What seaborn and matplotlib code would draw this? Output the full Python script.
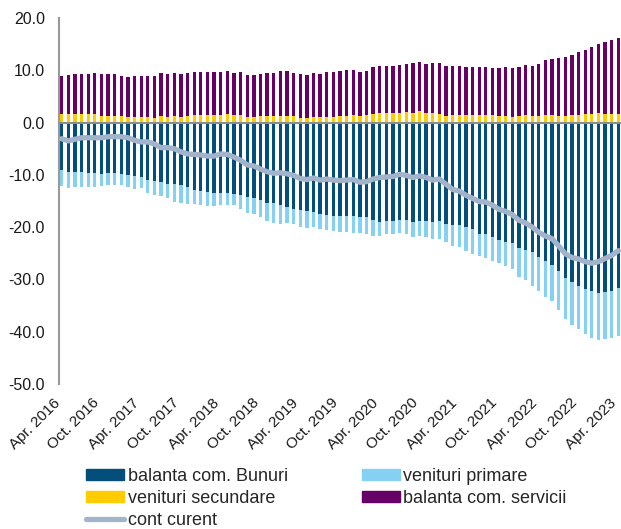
import numpy as np
import pandas as pd
import matplotlib
matplotlib.use("Agg")
import matplotlib.pyplot as plt
import matplotlib.transforms as mtransforms
from matplotlib.patches import Patch
from matplotlib.lines import Line2D
import seaborn as sns

# ─── Data (monthly, Apr. 2016 – Apr. 2023) ────────────────────────────────────
months = pd.period_range("2016-04", "2023-04", freq="M").strftime("%Y-%m").tolist()

bunuri = [
    -9.1, -9.4, -9.4, -9.5, -9.6, -9.6, -9.8, -9.7, -9.7, -9.9,
    -10.1, -10.3, -10.4, -10.9, -11.2, -11.3, -11.7, -11.8, -12.0, -12.4,
    -12.9, -13.1, -13.3, -13.4, -13.4, -13.4, -13.6, -13.9, -14.3, -14.4,
    -14.8, -15.3, -15.4, -15.8, -16.2, -16.5, -16.8, -17.0, -17.1, -17.5,
    -17.6, -17.8, -17.9, -17.9, -17.9, -18.1, -18.1, -18.7, -19.0, -18.9,
    -18.9, -18.7, -18.7, -19.0, -18.8, -18.8, -19.0, -18.9, -19.4, -19.6,
    -19.5, -20.0, -20.3, -21.3, -21.3, -21.8, -22.4, -22.8, -23.1, -24.0,
    -24.3, -24.7, -25.7, -26.5, -27.3, -28.3, -29.7, -30.5, -31.3, -31.9,
    -32.3, -32.6, -32.4, -32.2, -31.7,
]
primare = [
    -3.1, -3.2, -3.0, -2.8, -2.7, -2.8, -2.4, -2.3, -2.2, -2.0,
    -2.2, -2.4, -2.2, -2.5, -2.7, -2.8, -2.7, -3.3, -3.3, -3.1,
    -2.6, -2.7, -2.7, -2.5, -2.4, -2.3, -2.2, -2.6, -2.9, -3.1,
    -3.3, -3.5, -3.8, -3.6, -3.1, -2.9, -3.2, -3.1, -2.9, -2.9,
    -2.9, -2.9, -3.0, -3.0, -3.2, -3.1, -3.3, -2.9, -2.6, -2.4,
    -2.4, -2.4, -2.7, -2.8, -2.9, -3.0, -3.3, -3.3, -3.4, -4.0,
    -4.3, -4.6, -4.9, -4.2, -4.6, -4.6, -4.5, -4.7, -4.9, -5.5,
    -5.9, -6.5, -6.5, -6.9, -6.9, -7.5, -7.9, -8.3, -8.1, -8.5,
    -8.9, -8.9, -9.0, -9.0, -9.2,
]
secundare = [
    1.6, 1.6, 1.7, 1.7, 1.6, 1.7, 1.2, 1.3, 1.3, 1.2,
    1.0, 1.0, 1.0, 1.0, 0.9, 1.2, 1.1, 1.2, 1.1, 1.3,
    1.4, 1.4, 1.4, 1.5, 1.5, 1.6, 1.4, 1.4, 1.1, 1.1,
    1.2, 1.2, 1.2, 1.3, 1.3, 1.2, 0.9, 0.8, 1.0, 1.0,
    1.1, 1.1, 1.2, 1.3, 1.4, 1.2, 1.4, 1.6, 1.8, 1.8,
    1.8, 1.9, 2.0, 1.9, 2.2, 1.8, 1.9, 1.7, 1.2, 1.5,
    1.5, 1.5, 1.5, 1.5, 1.5, 1.5, 1.3, 1.3, 1.1, 1.3,
    1.4, 1.3, 1.3, 1.4, 1.4, 1.3, 1.3, 1.4, 1.5, 1.6,
    1.7, 1.8, 1.7, 1.7, 1.7,
]
servicii = [
    7.4, 7.5, 7.5, 7.6, 7.6, 7.8, 8.0, 7.9, 7.9, 7.8,
    7.8, 7.9, 8.0, 8.0, 8.0, 8.2, 8.2, 8.2, 8.1, 8.2,
    8.2, 8.2, 8.2, 8.1, 8.1, 8.2, 8.0, 8.2, 8.0, 8.0,
    8.1, 8.2, 8.3, 8.5, 8.6, 8.3, 8.4, 8.3, 8.4, 8.3,
    8.5, 8.5, 8.6, 8.7, 8.7, 8.5, 8.5, 9.1, 9.1, 9.0,
    9.1, 9.2, 9.2, 9.4, 9.3, 9.4, 9.4, 9.6, 9.6, 9.3,
    9.3, 9.2, 9.2, 9.1, 9.2, 9.0, 9.1, 9.3, 9.3, 9.3,
    9.6, 9.6, 9.9, 10.5, 10.8, 11.1, 11.2, 11.6, 12.0, 12.3,
    12.7, 13.3, 13.8, 14.1, 14.4,
]
cont_curent = [
    -3.1, -3.5, -3.2, -2.9, -2.9, -2.9, -2.9, -2.7, -2.7, -2.7,
    -2.9, -3.4, -3.7, -3.7, -4.1, -4.8, -4.8, -5.0, -5.6, -6.0,
    -6.1, -6.2, -6.4, -6.4, -6.0, -6.1, -6.6, -7.2, -8.1, -8.3,
    -8.9, -9.4, -9.7, -9.6, -9.8, -10.1, -10.7, -10.9, -10.6, -11.0,
    -10.8, -11.0, -11.1, -11.0, -10.9, -11.4, -11.3, -10.8, -10.5, -10.4,
    -10.3, -9.9, -10.1, -10.5, -10.2, -10.5, -11.0, -10.8, -11.8, -12.8,
    -13.1, -13.9, -14.5, -15.1, -15.2, -15.8, -16.6, -17.0, -17.6, -18.7,
    -19.2, -20.0, -21.0, -21.7, -22.2, -23.6, -25.1, -25.8, -26.1, -26.6,
    -26.9, -26.6, -26.0, -25.4, -24.5,
]

tick_labels = [
    "Apr. 2016", "Oct. 2016", "Apr. 2017", "Oct. 2017", "Apr. 2018",
    "Oct. 2018", "Apr. 2019", "Oct. 2019", "Apr. 2020", "Oct. 2020",
    "Apr. 2021", "Oct. 2021", "Apr. 2022", "Oct. 2022", "Apr. 2023",
]

# ─── Style ────────────────────────────────────────────────────────────────────
sns.set_style("white")
plt.rcParams["font.family"] = ["Liberation Sans", "DejaVu Sans"]

C_BUN = "#034e7b"
C_PRI = "#85d0f3"
C_SEC = "#ffcc00"
C_SER = "#660066"
C_CC = "#a3b4ca"

df = pd.DataFrame({
    "luna": months,
    "bunuri": bunuri,
    "primare": primare,
    "secundare": secundare,
    "servicii": servicii,
    "cont": cont_curent,
})
# cumulative stack edges (bars are overlaid from the outside in)
df["neg_total"] = df["bunuri"] + df["primare"]
df["pos_total"] = df["secundare"] + df["servicii"]

fig = plt.figure(figsize=(6.21, 5.29), dpi=100)
ax = fig.add_axes([59 / 621, 1 - 384 / 529, 562 / 621, 366 / 529])

bw = 0.5
bar_kw = dict(x="luna", width=bw, saturation=1, errorbar=None, linewidth=0, ax=ax)
sns.barplot(data=df, y="neg_total", color=C_PRI, **bar_kw)
sns.barplot(data=df, y="bunuri", color=C_BUN, **bar_kw)
sns.barplot(data=df, y="pos_total", color=C_SER, **bar_kw)
sns.barplot(data=df, y="secundare", color=C_SEC, **bar_kw)

ax.axhline(0, color="#8c8c8c", lw=1.5, zorder=3)
sns.lineplot(x=np.arange(len(df)), y=df["cont"].values, color=C_CC, lw=3.8,
             sort=False, ax=ax, zorder=4)

# ─── Axes ─────────────────────────────────────────────────────────────────────
ax.set_xlim(-0.4, len(df) - 0.6)
ax.set_ylim(-50, 20)
ax.set_yticks(np.arange(-50, 21, 10))
ax.set_yticklabels([f"{v:.1f}" for v in np.arange(-50, 21, 10)])
ax.set_xticks(np.arange(0, len(df), 6))
ax.set_xticklabels(tick_labels, rotation=45, ha="right", va="center",
                   rotation_mode="anchor")
ax.set_xlabel("")
ax.set_ylabel("")
ax.tick_params(axis="y", length=0, pad=10, labelsize=11.5, colors="#1a1a1a")
ax.tick_params(axis="x", length=0, pad=12, labelsize=11, colors="#1a1a1a")
shift = mtransforms.ScaledTranslation(-4 / 100, 0, fig.dpi_scale_trans)
for lbl in ax.get_xticklabels():
    lbl.set_transform(lbl.get_transform() + shift)
for s in ["top", "right", "bottom"]:
    ax.spines[s].set_visible(False)
ax.spines["left"].set_color("#999999")
ax.spines["left"].set_linewidth(1.5)
ax.grid(False)

# ─── Legend (row-wise order with 2 columns) ───────────────────────────────────
handles = [
    Patch(color=C_BUN, label="balanta com. Bunuri"),
    Patch(color=C_SEC, label="venituri secundare"),
    Line2D([], [], color=C_CC, lw=3.8, label="cont curent"),
    Patch(color=C_PRI, label="venituri primare"),
    Patch(color=C_SER, label="balanta com. servicii"),
]
fig.legend(handles=handles, ncol=2, loc="upper left",
           bbox_to_anchor=(86 / 621, 1 - 468 / 529), frameon=False,
           fontsize=13, handlelength=2.1, handleheight=0.55,
           handletextpad=0.2, columnspacing=4.1, labelspacing=0.28,
           borderpad=0, borderaxespad=0)

fig.savefig("out.png", dpi=100)
